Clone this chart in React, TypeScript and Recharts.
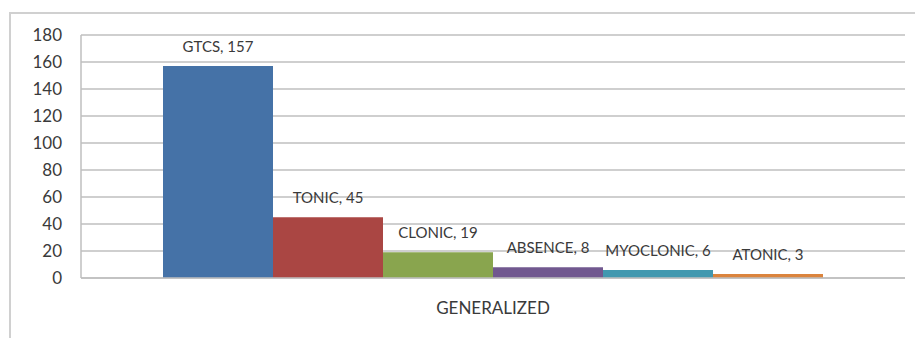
import React from "react";
import { BarChart, Bar, XAxis, YAxis, CartesianGrid, LabelList } from "recharts";

const categories = ["GENERALIZED"];
const seriesNames = ["GTCS", "TONIC", "CLONIC", "ABSENCE", "MYOCLONIC", "ATONIC"];
const seriesValues = [157, 45, 19, 8, 6, 3];
const yTicks = [0, 20, 40, 60, 80, 100, 120, 140, 160, 180];

const COLORS = ["#4572A7", "#AA4643", "#89A54E", "#71588F", "#4198AF", "#DB843D"];
const FONT = "Lato, 'Open Sans', sans-serif";
const TEXT = "#3a3a3a";

const data = categories.map((c) => {
  const row: Record<string, any> = { category: c };
  seriesNames.forEach((s, i) => (row[s] = seriesValues[i]));
  return row;
});

const makeLabel = (name: string) => (props: any) => {
  const { x, y, width, value } = props;
  return (
    <text x={x + width / 2} y={y - 14} textAnchor="middle" fill={TEXT} fontSize={15} fontFamily={FONT}>
      {`${name}, ${value}`}
    </text>
  );
};

export default function App() {
  return (
    <div style={{ position: "fixed", left: 0, top: 0, width: 915, height: 338, background: "#fff", overflow: "hidden" }}>
      <div
        style={{
          position: "absolute",
          left: 9,
          top: 12,
          width: 920,
          height: 340,
          borderLeft: "2px solid #D0D0D0",
          borderTop: "2px solid #D0D0D0",
        }}
      />
      <div style={{ position: "absolute", left: 0, top: 0 }}>
        <BarChart
          width={915}
          height={338}
          data={data}
          margin={{ top: 35, right: 10, bottom: 30, left: 41 }}
          barCategoryGap={82}
          barGap={0}
        >
          <CartesianGrid vertical={false} stroke="#BFBFBF" strokeWidth={1.5} />
          <XAxis
            dataKey="category"
            height={30}
            stroke="#BFBFBF"
            strokeWidth={1.5}
            tickLine={false}
            tickSize={0}
            tickMargin={24}
            tick={{ fill: TEXT, fontSize: 17, fontFamily: FONT }}
          />
          <YAxis
            width={40}
            domain={[0, 180]}
            ticks={yTicks}
            interval={0}
            stroke="#BFBFBF"
            strokeWidth={1.5}
            tickLine={false}
            tickSize={0}
            tickMargin={19}
            tick={{ fill: TEXT, fontSize: 17, fontFamily: FONT }}
          />
          {seriesNames.map((s, i) => (
            <Bar key={s} dataKey={s} fill={COLORS[i]} isAnimationActive={false}>
              <LabelList dataKey={s} content={makeLabel(s)} />
            </Bar>
          ))}
        </BarChart>
      </div>
    </div>
  );
}
